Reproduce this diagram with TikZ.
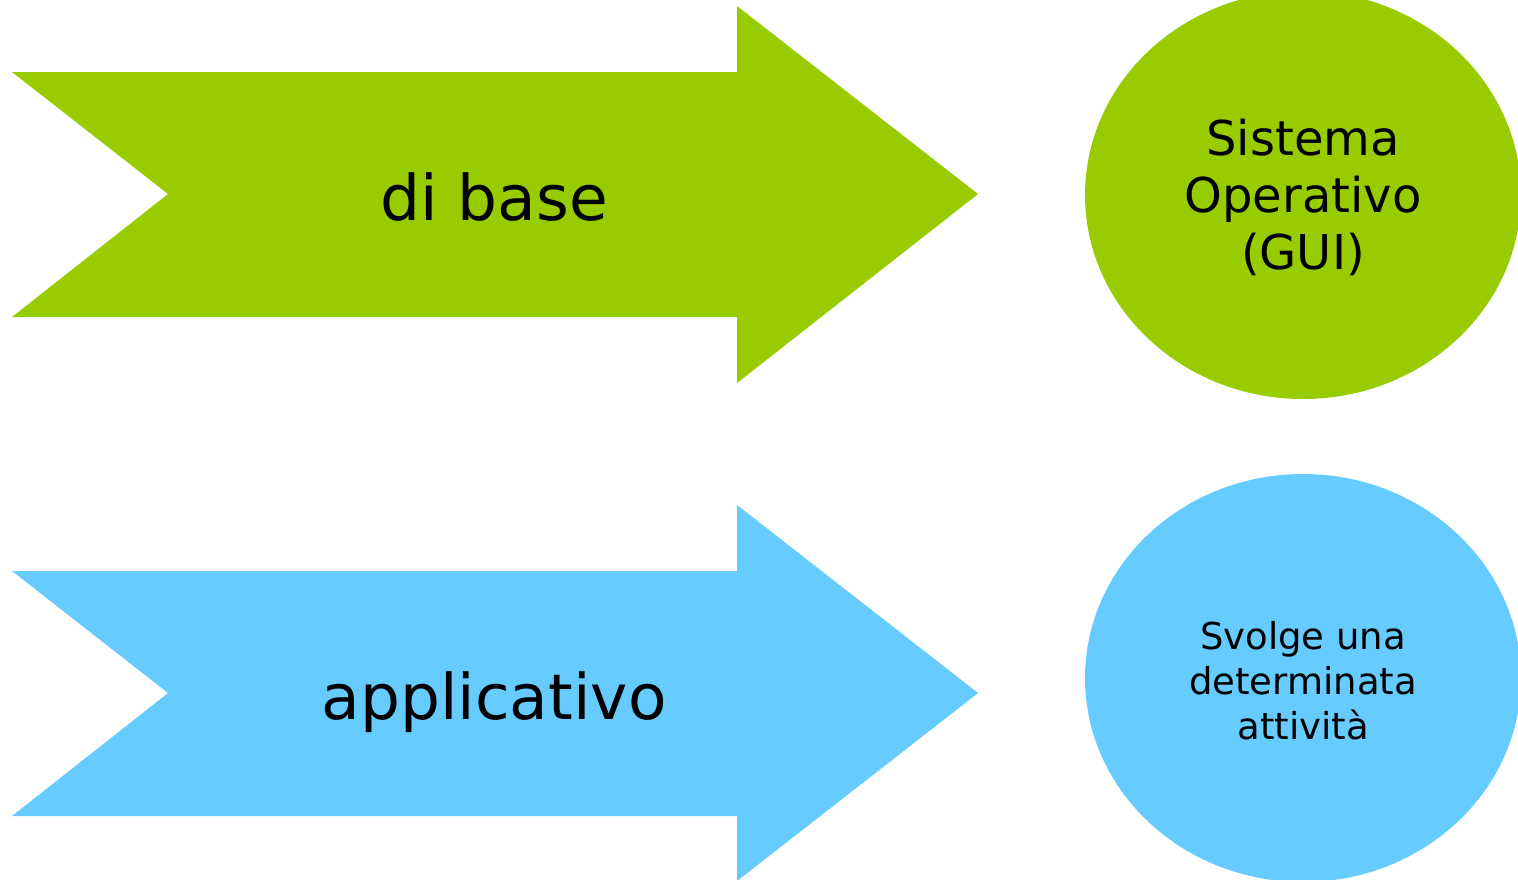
\documentclass[tikz,border=0pt]{standalone}
\usepackage{fontspec}
\setmainfont{DejaVu Sans}
\usepackage{tikz}
\usetikzlibrary{positioning}
\definecolor{basegreen}{HTML}{99CC00}
\definecolor{appblue}{HTML}{66CCFF}

\begin{document}
\begin{tikzpicture}[x=0.5pt,y=-0.5pt,
  bigtext/.style={font=\fontsize{31.5}{36}\selectfont, inner sep=0pt},
  osstext/.style={font=\fontsize{24}{28.5}\selectfont, align=center, inner sep=0pt},
  apptext/.style={font=\fontsize{18.5}{22.5}\selectfont, align=center, inner sep=0pt}]
\useasboundingbox (0,0) rectangle (1518,879);
\begin{scope}
\clip (0,0) rectangle (1518,879);
% green arrow
\fill [basegreen] (12,72) -- (737,72) -- (737,6) -- (978,194) -- (737,383) -- (737,317) -- (12,317) -- (168,194) -- cycle;
% blue arrow
\fill [appblue] (12,571) -- (737,571) -- (737,505) -- (978,693) -- (737,881) -- (737,816) -- (12,816) -- (168,693) -- cycle;
% ellipses
\fill [basegreen] (1303,195) ellipse [x radius=218, y radius=204];
\fill [appblue] (1303,678) ellipse [x radius=218, y radius=204];
\end{scope}
\node [bigtext, anchor=base] (dibase) at (494,220) {di base};
\node [bigtext, anchor=base] (applic) at (494,719) {applicativo};
\node [osstext] (sisop) at (1303,197) {Sistema\\Operativo\\(GUI)};
\node [apptext] (svolge) at (1303,681) {Svolge una\\determinata\\attività};
\end{tikzpicture}
\end{document}
